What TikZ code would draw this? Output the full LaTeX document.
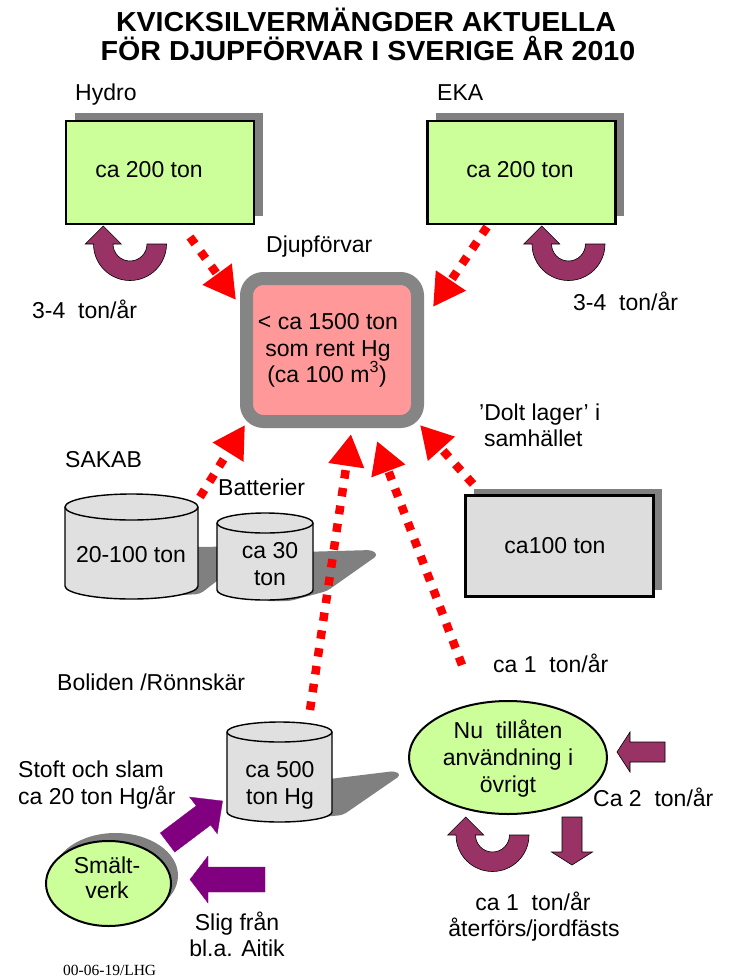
\documentclass[tikz,border=0pt]{standalone}
\usepackage{fontspec}
\setmainfont{Liberation Sans}
\newfontfamily\stampfont{Liberation Serif}
\usetikzlibrary{arrows.meta,shapes.geometric,shadows}

\definecolor{leaf}{HTML}{CCFF99}
\definecolor{blush}{HTML}{FF9999}
\definecolor{boxgrey}{HTML}{DDDDDD}
\definecolor{cylgrey}{HTML}{E0E0E0}
\definecolor{shadowgrey}{HTML}{808080}
\definecolor{frame}{HTML}{858585}
\definecolor{hgred}{HTML}{FF0000}
\definecolor{mauve}{HTML}{993366}
\definecolor{plum}{HTML}{800080}

% block arrow: style, tail x, tail y, angle, length, shaft half width, head half width, head length
\newcommand\blockarrow[8]{%
  \filldraw[#1, shift={(#2,#3)}, rotate=#4]
    (0,-#6) -- ({#5-#8},-#6) -- ({#5-#8},-#7) -- (#5,0) -- ({#5-#8},#7)
    -- ({#5-#8},#6) -- (0,#6) -- cycle;}

% half-ring arrow turning back up on its left end: centre x, centre y
\newcommand\uturn[2]{%
  \filldraw[fill=mauve, draw=black, line width=0.6pt]
    ({#1+36.5},#2) arc[start angle=0, end angle=180, radius=36.5]
    -- ({#1-44.75},#2) -- ({#1-26.75},{#2-18}) -- ({#1-8.75},#2)
    -- ({#1-17},#2) arc[start angle=180, end angle=0, radius=17] -- cycle;}

% cylinder: centre x, top y, bottom y, x radius, y radius
\newcommand\drum[5]{%
  \filldraw[fill=cylgrey, draw=black, line width=1.4pt]
    ({#1-#4},#2) -- ({#1-#4},#3)
    arc[start angle=180, end angle=0, x radius=#4, y radius=#5]
    -- ({#1+#4},#2)
    arc[start angle=0, end angle=-180, x radius=#4, y radius=#5] -- cycle;
  \draw[black, line width=1.4pt] ({#1+#4},#2)
    arc[start angle=0, end angle=180, x radius=#4, y radius=#5];}

\tikzset{
  txt/.style={anchor=base, inner sep=0pt, font=\fontsize{23}{26.5}\selectfont},
  txtl/.style={txt, anchor=base west},
  headline/.style={anchor=base, inner sep=0pt, font=\fontsize{27.5}{31}\selectfont\bfseries},
  store/.style={draw=black, line width=2.6pt, inner sep=0pt},
  hgflow/.style={draw=hgred, line width=8.5pt, dash pattern=on 8.5pt off 9.5pt,
    -{Triangle[length=32pt, width=34pt]}},
  mauvearrow/.style={fill=mauve, draw=black, line width=0.6pt},
  plumarrow/.style={fill=plum, draw=plum, line width=0.3pt},
  castshadow/.style={fill=shadowgrey, rounded corners=4pt}
}

\begin{document}
\begin{tikzpicture}[x=1pt, y=-1pt]
\useasboundingbox (0,0) rectangle (730,977);
\fill[white] (0,0) rectangle (730,977);

% title
\node[headline] (title1) at (366,31)
  {\scalebox{1.04}[1]{KVICKSILVERMÄNGDER AKTUELLA}};
\node[headline] (title2) at (368,60)
  {\scalebox{1.04}[1]{FÖR DJUPFÖRVAR I SVERIGE ÅR 2010}};

% shadows cast by the cylinders
\fill[castshadow] (131,548) -- (262,546) -- (200,594) -- (131,598) -- cycle;
\fill[castshadow] (265,553) -- (372,550) -- (378,555) -- (327,591) -- (290,601) -- (265,601) -- cycle;
\fill[castshadow] (280,785) -- (395,771) -- (401,775) -- (343,815) -- (280,821) -- cycle;

% cylinders
\drum{131.5}{507}{586}{66.5}{13}
\drum{265}{523}{590}{48}{10}
\drum{279.5}{732}{812}{52.5}{10}

% stores
\node[store, fill=leaf, minimum width=188pt, minimum height=103pt,
  general shadow={fill=shadowgrey, shadow xshift=9pt, shadow yshift=8pt}]
  (hydro) at (160,172.5) {};
\node[store, fill=leaf, minimum width=188pt, minimum height=103pt,
  general shadow={fill=shadowgrey, shadow xshift=8.5pt, shadow yshift=8pt}]
  (eka) at (521.5,172.5) {};
\node[store, fill=boxgrey, minimum width=188pt, minimum height=101pt,
  general shadow={fill=shadowgrey, shadow xshift=8.5pt, shadow yshift=7pt}]
  (dolt) at (559.5,546) {};
\node[draw=frame, line width=13pt, fill=blush, rounded corners=17pt,
  minimum width=171pt, minimum height=143pt, inner sep=0pt]
  (djup) at (332,350) {};
\node[ellipse, draw=black, line width=2pt, fill=leaf, minimum width=125pt,
  minimum height=85pt, inner sep=0pt,
  general shadow={fill=shadowgrey, shadow xshift=7pt, shadow yshift=8pt}]
  (smelt) at (108.5,883.5) {};
\node[ellipse, draw=black, line width=2pt, fill=leaf, minimum width=198pt,
  minimum height=113pt, inner sep=0pt] (use) at (508,757.5) {};

% flows towards the repository
\coordinate (hydroout) at (190,237);  \coordinate (djupnw) at (236,300);
\coordinate (ekaout) at (487,227);    \coordinate (djupne) at (433,307);
\coordinate (sakabout) at (200,497);  \coordinate (djupsw) at (245,425);
\coordinate (storeout) at (310,710);  \coordinate (djups) at (351,434);
\coordinate (useout) at (462,665);    \coordinate (djupsm) at (377,441);
\coordinate (doltout) at (473,484);   \coordinate (djupse) at (420,425);
\draw[hgflow] (hydroout) -- (djupnw);
\draw[hgflow] (ekaout) -- (djupne);
\draw[hgflow] (sakabout) -- (djupsw);
\draw[hgflow] (storeout) -- (djups);
\draw[hgflow] (useout) -- (djupsm);
\draw[hgflow] (doltout) -- (djupse);

% circulation arrows
\uturn{130}{244}
\uturn{568.5}{244}
\uturn{492.5}{835}
\blockarrow{mauvearrow}{665}{752}{180}{48}{10}{20}{13}
\blockarrow{mauvearrow}{572}{817}{-90}{48}{10}{20.5}{13}

% smelter arrows
\blockarrow{plumarrow}{167.5}{842.5}{37}{69}{12}{23}{24}
\blockarrow{plumarrow}{265}{879.5}{180}{75}{12.5}{23.5}{18}

% texts
\node[txtl] (hydrolbl) at (75,100) {Hydro};
\node[txtl] (ekalbl) at (437,100) {EKA};
\node[txt] (hydrotxt) at (149,177) {ca 200 ton};
\node[txt] (ekatxt) at (520,177) {ca 200 ton};
\node[txtl] (hydrorate) at (32,318) {3-4\ \ ton/år};
\node[txtl] (ekarate) at (573,310) {3-4\ \ ton/år};
\node[txtl] (djuplbl) at (266,252) {Djupförvar};
\node[txt] (djup1) at (328,329) {< ca 1500 ton};
\node[txt] (djup2) at (328,356) {som rent Hg};
\node[txt] (djup3) at (327,382) {(ca 100 m\textsuperscript{3})};
\node[txtl] (dolt1) at (479,420) {’Dolt lager’ i};
\node[txtl] (dolt2) at (484,446) {samhället};
\node[txt] (dolttxt) at (555,553) {ca100 ton};
\node[txtl] (sakablbl) at (65,467) {SAKAB};
\node[txtl] (battlbl) at (218,495) {Batterier};
\node[txt] (sakabtxt) at (131,562) {20-100 ton};
\node[txt] (batt1) at (270,558) {ca 30};
\node[txt] (batt2) at (270,585) {ton};
\node[txtl] (bolidenlbl) at (57,690) {Boliden /Rönnskär};
\node[txt] (store1) at (280,777) {ca 500};
\node[txt] (store2) at (280,804) {ton Hg};
\node[txtl] (stoft1) at (18,777) {Stoft och slam};
\node[txtl] (stoft2) at (18,804) {ca 20 ton Hg/år};
\node[txt] (smelt1) at (107,873) {Smält-};
\node[txt] (smelt2) at (107,898) {verk};
\node[txt] (slig1) at (237,930) {Slig från};
\node[txt] (slig2) at (237,956) {bl.a. Aitik};
\node[txtl] (userate) at (493,672) {ca 1\ \ ton/år};
\node[txt] (use1) at (508,738) {Nu\ \ tillåten};
\node[txt] (use2) at (508,765) {användning i};
\node[txt] (use3) at (508,792) {övrigt};
\node[txtl] (inrate) at (593,806) {Ca 2\ \ ton/år};
\node[txt] (back1) at (533,910) {ca 1\ \ ton/år};
\node[txt] (back2) at (534,936) {återförs/jordfästs};
\node[anchor=base west, inner sep=0pt, font=\stampfont\fontsize{15.5}{18}\selectfont]
  (stamp) at (63,975) {00-06-19/LHG};
\end{tikzpicture}
\end{document}
